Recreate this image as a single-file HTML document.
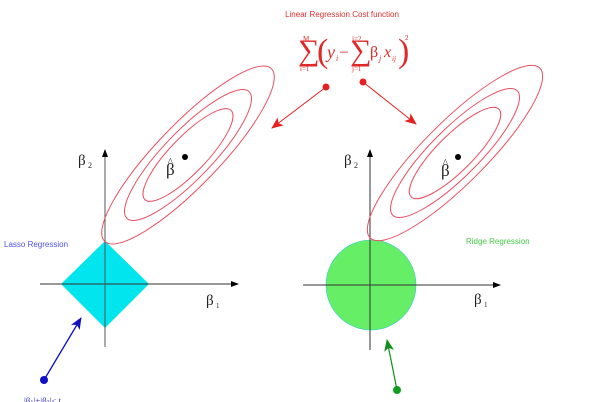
<!DOCTYPE html>
<html><head><style>
html,body{margin:0;padding:0;background:#fff;width:600px;height:402px;overflow:hidden}
svg{display:block}
text{font-family:"Liberation Sans",sans-serif}
.s{font-family:"Liberation Serif",serif}
</style></head><body>
<svg width="600" height="402" viewBox="0 0 600 402">
<defs>
<marker id="ak" markerWidth="8" markerHeight="8" refX="7" refY="4" orient="auto" markerUnits="userSpaceOnUse"><path d="M0,1 L8,4 L0,7z" fill="#000"/></marker>
<marker id="ar" markerWidth="12" markerHeight="10" refX="11" refY="5" orient="auto" markerUnits="userSpaceOnUse"><path d="M0,0 L12,5 L0,10 L3,5z" fill="#e62020"/></marker>
<marker id="ab" markerWidth="12" markerHeight="10" refX="11" refY="5" orient="auto" markerUnits="userSpaceOnUse"><path d="M0,0 L12,5 L0,10 L3,5z" fill="#1010c0"/></marker>
<marker id="ag" markerWidth="12" markerHeight="10" refX="11" refY="5" orient="auto" markerUnits="userSpaceOnUse"><path d="M0,0 L12,5 L0,10 L3,5z" fill="#10901a"/></marker>
</defs>
<text x="342" y="17" font-size="8" fill="#e03030" text-anchor="middle">Linear Regression Cost function</text>
<g class="s" fill="#e02828" font-family="Liberation Serif,serif">
<text x="298" y="60" font-size="30" class="s">∑</text>
<text x="303" y="41" font-size="7" class="s">M</text>
<text x="300" y="71" font-size="7" class="s">i=1</text>
<text x="317" y="62" font-size="34" class="s" font-weight="100">(</text>
<text x="327" y="58" font-size="18" class="s" font-style="italic">y</text><text x="336" y="61" font-size="8" class="s" font-style="italic">i</text>
<text x="340" y="56" font-size="16" class="s">–</text>
<text x="350" y="60" font-size="30" class="s">∑</text>
<text x="352" y="41" font-size="7" class="s">j=2</text>
<text x="352" y="71" font-size="7" class="s">j=1</text>
<text x="370" y="57" font-size="16" class="s">β</text><text x="379" y="61" font-size="8" class="s" font-style="italic">j</text>
<text x="384" y="57" font-size="16" class="s" font-style="italic">x</text><text x="392" y="61" font-size="7" class="s" font-style="italic">ij</text>
<text x="398" y="62" font-size="34" class="s">)</text>
<text x="405" y="40" font-size="7" class="s">2</text>
</g>
<circle cx="326" cy="87" r="3.5" fill="#e62020"/>
<line x1="326" y1="87" x2="272" y2="128" stroke="#e62020" stroke-width="1" marker-end="url(#ar)"/>
<circle cx="363" cy="82" r="3.5" fill="#e62020"/>
<line x1="363" y1="82" x2="416" y2="124" stroke="#e62020" stroke-width="1" marker-end="url(#ar)"/>

<!-- left -->
<path d="M105,241 L149,284 L105,328 L61,284z" fill="#00e5ee"/>
<line x1="40" y1="284" x2="238" y2="284" stroke="#333" stroke-width="1" marker-end="url(#ak)"/>
<line x1="105" y1="347" x2="105" y2="150" stroke="#555" stroke-width="1" marker-end="url(#ak)"/>
<g fill="none" stroke="#e85060" stroke-width="1" transform="translate(188,155) rotate(-46)">
<ellipse rx="120" ry="31"/><ellipse rx="88" ry="24"/><ellipse rx="62" ry="18"/>
</g>
<circle cx="185" cy="157" r="3" fill="#000"/>
<text x="166" y="175" font-size="17" class="s" fill="#222">β</text>
<text x="168" y="165" font-size="10" class="s" fill="#222">^</text>
<text x="78" y="165" font-size="15" class="s" fill="#222">β</text><text x="88" y="168" font-size="8" class="s" fill="#222">2</text>
<text x="206" y="305" font-size="15" class="s" fill="#222">β</text><text x="216" y="308" font-size="7" class="s" fill="#222">1</text>
<text x="4" y="247" font-size="8" fill="#5050ee">Lasso Regression</text>
<circle cx="44" cy="380" r="4" fill="#1010c8"/>
<line x1="44" y1="380" x2="81" y2="318" stroke="#1010c0" stroke-width="1.3" marker-end="url(#ab)"/>
<text x="24" y="404" font-size="9" class="s" fill="#3030c0">|β<tspan font-size="6">1</tspan>|+|β<tspan font-size="6">2</tspan>|≤ t</text>

<!-- right -->
<circle cx="371" cy="285" r="45" fill="#66ee66" stroke="#3cc" stroke-width="0.6"/>
<line x1="303" y1="285" x2="500" y2="285" stroke="#333" stroke-width="1" marker-end="url(#ak)"/>
<line x1="370" y1="350" x2="370" y2="150" stroke="#333" stroke-width="1" marker-end="url(#ak)"/>
<g fill="none" stroke="#e85060" stroke-width="1" transform="translate(455,153) rotate(-45)">
<ellipse rx="120" ry="31"/><ellipse rx="88" ry="24"/><ellipse rx="62" ry="18"/>
</g>
<circle cx="458" cy="157" r="3" fill="#000"/>
<text x="441" y="176" font-size="17" class="s" fill="#222">β</text>
<text x="443" y="166" font-size="10" class="s" fill="#222">^</text>
<text x="344" y="165" font-size="15" class="s" fill="#222">β</text><text x="354" y="168" font-size="8" class="s" fill="#222">2</text>
<text x="474" y="304" font-size="15" class="s" fill="#222">β</text><text x="484" y="307" font-size="7" class="s" fill="#222">1</text>
<text x="466" y="244" font-size="8" fill="#44cc44">Ridge Regression</text>
<circle cx="397" cy="390" r="4" fill="#10a020"/>
<line x1="397" y1="390" x2="387" y2="340" stroke="#10901a" stroke-width="1.2" marker-end="url(#ag)"/>
</svg>
</body></html>
